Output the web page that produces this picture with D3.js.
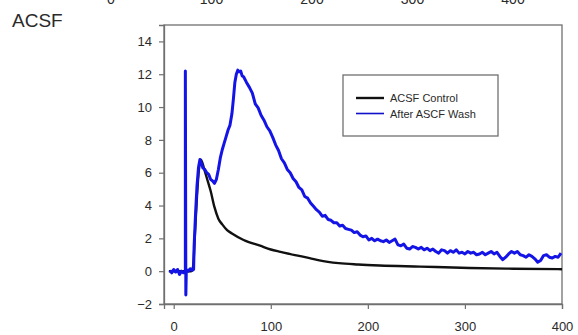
<!DOCTYPE html>
<html>
<head>
<meta charset="utf-8">
<script src="https://cdn.jsdelivr.net/npm/d3@7/dist/d3.min.js"></script>
<style>
  html, body { margin: 0; padding: 0; background: #fff; }
  svg { display: block; }
  text { font-family: "Liberation Sans", Arial, sans-serif; }
</style>
</head>
<body>
<svg id="chart" width="578" height="335"></svg>
<script>
// ---- data ----
const panelTitle = "ACSF";
const xTicks = [0, 100, 200, 300, 400];
const yTicks = [-2, 0, 2, 4, 6, 8, 10, 12, 14];
const seriesNames = ["ACSF Control", "After ASCF Wash"];

// labels of the panel above, cut off by the top edge
const upperPanelTicks = [0, 100, 200, 300, 400];

// ACSF control trace: [time, amplitude]
const controlTrace = [
  [-5, 0.0], [0, 0.0], [10, 0.0], [18, 0.0], [20, 0.3], [22, 2.4], [24, 4.6],
  [26, 6.2], [28, 6.8], [31, 6.3], [35, 5.5], [38, 4.9], [42, 3.9], [46, 3.2],
  [50, 2.85], [55, 2.5], [60, 2.3], [72, 1.9], [89, 1.55], [100, 1.32],
  [110, 1.18], [125, 0.98], [140, 0.8], [150, 0.66], [170, 0.49], [190, 0.41],
  [212, 0.35], [254, 0.28], [305, 0.19], [350, 0.15], [400, 0.12]
];

// after-wash trace, onset (incl. stimulus artifact): [time, amplitude]
const washOnset = [
  [-4, 0.05], [-2, -0.1], [0, 0.1], [2, -0.05], [4, 0.1], [6, -0.2], [8, 0.0],
  [10, -0.1], [12, 0.0], [12, 12.2], [12.5, -1.45], [13, 0.1], [15, 0.0],
  [17, 0.15], [19, 0.05], [20.5, 0.1], [21, 1.5], [22.5, 3.5], [24, 5.2],
  [25.5, 6.3], [27, 6.8], [28.5, 6.6], [30, 6.3], [32, 6.2], [34, 6.0],
  [36, 5.9], [38, 5.6], [40, 5.5], [42, 5.35], [44, 5.6], [46, 6.2], [48, 6.9],
  [50, 7.4], [52, 7.8], [54, 8.2], [56, 8.6], [58, 8.9], [60, 9.6], [61.5, 10.5],
  [63, 11.5], [64.5, 12.0], [66, 12.25], [67.5, 12.15], [69, 12.2], [70.5, 11.9],
  [72, 11.85]
];

// after-wash trace, decay: sampled every 3 time units from t = 75
const washDecayStart = 75;
const washDecayStep = 3;
const washDecay = [
  11.5, 11.2, 10.85, 10.2, 9.95, 9.5, 9.2, 8.8, 8.55, 8.15,
  7.7, 7.35, 6.85, 6.6, 6.2, 6.0, 5.65, 5.45, 5.1, 4.95,
  4.55, 4.45, 4.15, 3.95, 3.75, 3.6, 3.35, 3.4, 3.15, 3.1,
  2.95, 2.95, 2.75, 2.8, 2.6, 2.55, 2.5, 2.35, 2.4, 2.2,
  2.1, 2.15, 1.9, 2.0, 1.85, 1.95, 1.85, 1.8, 1.9, 1.75,
  1.85, 1.95, 1.6, 1.55, 1.65, 1.4, 1.35, 1.5, 1.45, 1.35,
  1.45, 1.3, 1.4, 1.25, 1.35, 1.2, 1.1, 1.3, 1.25, 1.1,
  1.25, 1.15, 1.3, 1.1, 1.15, 1.05, 1.2, 1.1, 1.15, 1.0,
  1.05, 1.15, 1.0, 1.1, 1.2, 1.05, 1.15, 0.9, 0.7, 0.85,
  1.05, 1.2, 1.1, 1.2, 1.0, 0.95, 0.85, 1.0, 0.9, 0.75,
  0.55, 0.65, 0.95, 1.0, 0.85, 0.8, 0.9, 0.85, 1.1
];

// ---- layout ----
const svg = d3.select("#chart");
const frame = { left: 164, right: 562, top: 25, bottom: 304 };
const colors = { control: "#111111", wash: "#1414e6", frame: "#707070", text: "#2a2a2a" };

const x = d3.scaleLinear().domain([-10, 400]).range([frame.left, frame.right]);
const y = d3.scaleLinear().domain([-2, 15]).range([frame.bottom, frame.top]);
const xUpper = d3.scaleLinear().domain([0, 400]).range([111, 513]);

// cut-off tick labels of the panel above
svg.append("g").selectAll("text")
  .data(upperPanelTicks)
  .join("text")
  .attr("x", d => xUpper(d))
  .attr("y", 4)
  .attr("text-anchor", "middle")
  .attr("font-size", 14)
  .attr("fill", colors.text)
  .text(d => d);

// panel title
svg.append("text")
  .attr("x", 12).attr("y", 27)
  .attr("font-size", 19)
  .attr("fill", colors.text)
  .text(panelTitle);

// plot frame
svg.append("rect")
  .attr("x", frame.left).attr("y", frame.top)
  .attr("width", frame.right - frame.left)
  .attr("height", frame.bottom - frame.top)
  .attr("fill", "none")
  .attr("stroke", colors.frame)
  .attr("stroke-width", 1.3);

// axes
const xAxis = svg.append("g")
  .attr("transform", `translate(0,${frame.bottom})`)
  .call(d3.axisBottom(x).tickValues(xTicks).tickSize(5).tickPadding(13).tickFormat(d3.format("d")));
const yAxis = svg.append("g")
  .attr("transform", `translate(${frame.left},0)`)
  .call(d3.axisLeft(y).tickValues(yTicks).tickSize(5).tickPadding(7).tickFormat(d3.format("d")));

[xAxis, yAxis].forEach(g => {
  g.select(".domain").attr("stroke", colors.frame).attr("stroke-width", 1.3);
  g.selectAll(".tick line").attr("stroke", colors.frame).attr("stroke-width", 1.2);
  g.selectAll(".tick text")
    .attr("font-size", 13)
    .attr("font-family", "'Liberation Sans', Arial, sans-serif")
    .attr("fill", colors.text);
});

// traces
const washTrace = washOnset.concat(
  washDecay.map((v, i) => [washDecayStart + i * washDecayStep, v])
);

svg.append("path")
  .datum(controlTrace)
  .attr("fill", "none")
  .attr("stroke", colors.control)
  .attr("stroke-width", 2.4)
  .attr("stroke-linejoin", "round")
  .attr("d", d3.line().x(d => x(d[0])).y(d => y(d[1])).curve(d3.curveMonotoneX));

svg.append("path")
  .datum(washTrace)
  .attr("fill", "none")
  .attr("stroke", colors.wash)
  .attr("stroke-width", 3)
  .attr("stroke-linejoin", "round")
  .attr("d", d3.line().x(d => x(d[0])).y(d => y(d[1])));

// legend
const legend = svg.append("g");
legend.append("rect")
  .attr("x", 343).attr("y", 75)
  .attr("width", 155).attr("height", 61)
  .attr("fill", "#fff")
  .attr("stroke", colors.frame)
  .attr("stroke-width", 1.3);

const legendRows = [
  { name: seriesNames[0], color: colors.control, width: 2.4 },
  { name: seriesNames[1], color: "#1010c8", width: 1.6 }
];
legendRows.forEach((r, i) => {
  const ly = 98 + i * 15.5;
  legend.append("line")
    .attr("x1", 356).attr("x2", 384)
    .attr("y1", ly).attr("y2", ly)
    .attr("stroke", r.color)
    .attr("stroke-width", r.width);
  legend.append("text")
    .attr("x", 390).attr("y", ly + 4)
    .attr("font-size", 11)
    .attr("fill", colors.text)
    .text(r.name);
});
</script>
</body>
</html>
